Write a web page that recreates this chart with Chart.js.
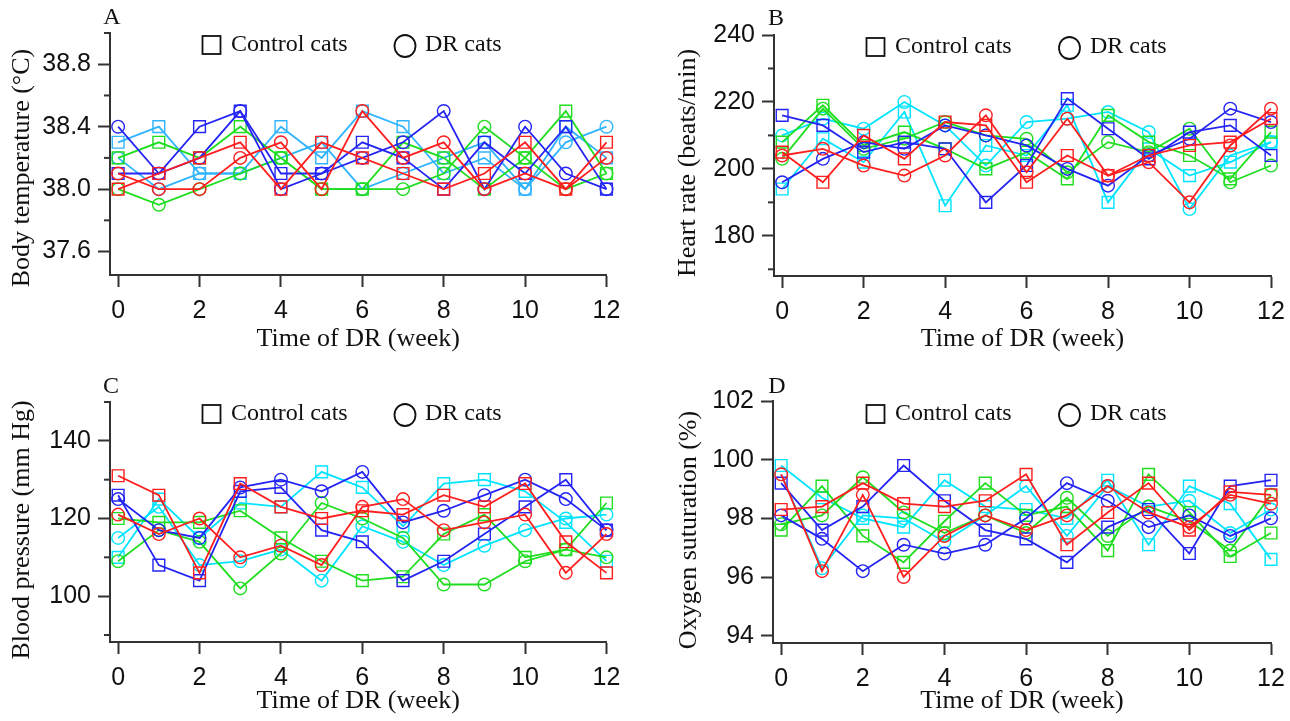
<!DOCTYPE html>
<html><head><meta charset="utf-8">
<script src="https://cdn.jsdelivr.net/npm/chart.js@4.4.1/dist/chart.umd.min.js"></script>
<style>
html,body{margin:0;padding:0;background:#fff;}
#wrap{position:relative;width:1290px;height:721px;overflow:hidden;background:#fff;}
canvas{position:absolute;}
</style></head><body>
<div id="wrap">
<canvas id="cA" width="645" height="360" style="left:0;top:0"></canvas>
<canvas id="cB" width="645" height="360" style="left:645px;top:0"></canvas>
<canvas id="cC" width="645" height="361" style="left:0;top:360px"></canvas>
<canvas id="cD" width="645" height="361" style="left:645px;top:360px"></canvas>
</div>
<script>
// ---------- data ----------
const weeks = [0,1,2,3,4,5,6,7,8,9,10,11,12];
const xTickWeeks = [0,2,4,6,8,10,12];

// A: body temperature (°C)
const tempRedCtrl   = [38.0,38.1,38.2,38.3,38.0,38.3,38.2,38.1,38.0,38.1,38.3,38.0,38.3];
const tempRedDR     = [38.1,38.0,38.0,38.2,38.3,38.0,38.5,38.2,38.3,38.0,38.1,38.0,38.2];
const tempBlueCtrl  = [38.1,38.1,38.4,38.5,38.1,38.1,38.3,38.2,38.0,38.3,38.1,38.4,38.0];
const tempBlueDR    = [38.4,38.1,38.2,38.5,38.0,38.1,38.2,38.3,38.5,38.0,38.4,38.1,38.0];
const tempGreenCtrl = [38.2,38.3,38.2,38.4,38.2,38.0,38.0,38.3,38.2,38.0,38.2,38.5,38.1];
const tempGreenDR   = [38.0,37.9,38.0,38.1,38.2,38.0,38.0,38.0,38.1,38.4,38.2,38.0,38.1];
const tempCyanCtrl  = [38.3,38.4,38.1,38.1,38.4,38.2,38.5,38.4,38.1,38.2,38.0,38.4,38.2];
const tempCyanDR    = [38.2,38.0,38.1,38.1,38.2,38.3,38.0,38.1,38.2,38.3,38.0,38.3,38.4];
const tempTicks = [37.6,38.0,38.4,38.8];
const tempMinor = [37.8,38.2,38.6,39.0];

// B: heart rate (beats/min)
const hrRedCtrl   = [205,196,210,203,214,213,196,204,198,204,207,208,215];
const hrRedDR     = [204,206,201,198,204,216,199,215,198,202,190,207,218];
const hrBlueCtrl  = [216,213,205,208,206,190,201,221,212,203,211,213,204];
const hrBlueDR    = [196,203,208,206,213,210,207,200,195,204,209,218,214];
const hrGreenCtrl = [208,219,207,211,206,200,205,197,216,208,204,197,211];
const hrGreenDR   = [203,218,206,209,214,210,209,199,208,205,212,196,201];
const hrCyanCtrl  = [194,209,202,217,189,207,204,219,190,206,198,202,208];
const hrCyanDR    = [210,215,212,220,213,201,214,215,217,211,188,204,208];
const hrTicks = [180,200,220,240];
const hrMinor = [170,190,210,230];

// C: blood pressure (mm Hg)
const bpRedCtrl   = [131,126,106,129,123,120,122,121,126,123,129,114,106];
const bpRedDR     = [121,116,120,110,113,108,123,125,117,119,121,106,116];
const bpBlueCtrl  = [126,108,104,127,128,117,114,104,109,116,123,130,117];
const bpBlueDR    = [125,117,115,128,130,127,132,119,122,126,130,125,117];
const bpGreenCtrl = [120,119,119,122,115,109,104,105,116,121,110,112,124];
const bpGreenDR   = [109,117,114,102,111,124,120,115,103,103,109,112,110];
const bpCyanCtrl  = [110,125,115,124,123,132,128,118,129,130,127,119,109];
const bpCyanDR    = [115,123,108,109,112,104,118,114,108,113,117,120,121];
const bpTicks = [100,120,140];
const bpMinor = [90,110,130,150];

// D: oxygen saturation (%)
const o2RedCtrl   = [98.3,98.4,99.2,98.5,98.4,98.6,99.5,97.1,98.2,99.2,97.6,98.9,98.8];
const o2RedDR     = [99.5,96.2,98.8,96.0,97.4,98.1,97.6,98.1,99.1,98.2,97.7,98.8,98.5];
const o2BlueCtrl  = [99.2,97.6,98.4,99.8,98.6,97.6,97.3,96.5,97.7,98.3,96.8,99.1,99.3];
const o2BlueDR    = [98.1,97.3,96.2,97.1,96.8,97.1,98.0,99.2,98.6,97.7,98.1,97.4,98.0];
const o2GreenCtrl = [97.6,99.1,97.4,96.5,97.9,99.2,98.1,98.4,96.9,99.5,98.2,96.7,97.5];
const o2GreenDR   = [97.8,98.1,99.4,98.2,97.5,98.1,97.5,98.7,97.4,98.4,97.9,96.9,98.8];
const o2CyanCtrl  = [99.8,98.7,98.0,97.7,99.3,98.4,98.3,98.0,99.3,97.1,99.1,98.5,96.6];
const o2CyanDR    = [99.5,96.3,98.1,98.0,97.2,98.1,99.1,97.4,99.1,98.4,98.6,97.5,98.3];
const o2Ticks = [94,96,98,100,102];
const o2Minor = [];

// ---------- styling ----------
const RED = '#FF1E1E', BLUE = '#2424F4', GREEN = '#1FDD1F', CYAN = '#00E4FF', SKY = '#30B4FF';
const AXIS = '#333333';
const SANS = '"Liberation Sans", Arial, sans-serif';
const SERIF = '"Liberation Serif", "Times New Roman", serif';

function ds(vals, color, shape) {
  return {
    data: weeks.map((w, i) => ({x: w, y: vals[i]})),
    borderColor: color,
    backgroundColor: 'rgba(255,255,255,0)',
    pointBackgroundColor: 'rgba(255,255,255,0)',
    pointBorderColor: color,
    pointStyle: shape,
    pointRadius: shape === 'rect' ? 8.3 : 6.3,
    pointBorderWidth: 1.4,
    borderWidth: 1.8,
    tension: 0,
    clip: false
  };
}

const annot = {
  id: 'annot',
  afterDraw(chart, args, o) {
    const ctx = chart.ctx, area = chart.chartArea, ys = chart.scales.y;
    ctx.save();
    ctx.strokeStyle = AXIS; ctx.lineWidth = 2;
    o.minor.forEach(v => {
      const y = ys.getPixelForValue(v);
      ctx.beginPath(); ctx.moveTo(area.left - 6, y); ctx.lineTo(area.left, y); ctx.stroke();
    });
    ctx.fillStyle = '#111';
    ctx.textBaseline = 'middle';
    ctx.textAlign = 'center';
    ctx.font = '24px ' + SERIF;
    ctx.fillText(o.letter, o.lx, o.ly);
    ctx.save();
    ctx.translate(o.tx, o.ty); ctx.rotate(-Math.PI / 2);
    ctx.font = '26px ' + SERIF;
    ctx.fillText(o.title, 0, 0);
    ctx.restore();
    // legend
    ctx.strokeStyle = '#111'; ctx.lineWidth = 1.8;
    ctx.strokeRect(o.sqX - 9, o.legY - 9, 18, 18);
    ctx.beginPath(); ctx.ellipse(o.circX, o.legY + 1, 10.5, 11, 0, 0, Math.PI * 2); ctx.stroke();
    ctx.textAlign = 'left';
    ctx.font = '24px ' + SERIF;
    ctx.fillText('Control cats', o.ctrlX, o.legY);
    ctx.fillText('DR cats', o.drX, o.legY);
    ctx.restore();
  }
};

function makeChart(id, g) {
  const cv = document.getElementById(id);
  const W = cv.width, H = cv.height;
  return new Chart(cv, {
    type: 'line',
    data: {datasets: g.series.map(s => ds(s[0], s[1], s[2]))},
    options: {
      responsive: false, animation: false, events: [],
      layout: {padding: {left: 0, top: g.top, right: W - g.right, bottom: 0}},
      plugins: {legend: {display: false}, tooltip: {enabled: false}, annot: g.annot},
      scales: {
        x: {
          type: 'linear', min: -0.2, max: 12,
          afterBuildTicks: s => { s.ticks = xTickWeeks.map(v => ({value: v})); },
          afterFit: s => { s.height = H - g.bottom; s.paddingLeft = 0; s.paddingRight = 0; },
          grid: {drawOnChartArea: false, drawTicks: true, tickLength: 12, tickColor: AXIS, tickWidth: 2, color: AXIS},
          border: {display: true, color: AXIS, width: 2},
          ticks: {font: {family: SANS, size: 25}, color: '#111', padding: 9, maxRotation: 0, callback: v => String(v)},
          title: {display: true, text: 'Time of DR (week)', font: {family: SERIF, size: 26}, color: '#111', padding: {top: 0, bottom: g.xtPad}}
        },
        y: {
          type: 'linear', min: g.ymin, max: g.ymax,
          afterBuildTicks: s => { s.ticks = g.ticks.map(v => ({value: v})); },
          afterFit: s => { s.width = g.left; s.paddingTop = 0; s.paddingBottom = 0; },
          grid: {drawOnChartArea: false, drawTicks: true, tickLength: 12, tickColor: AXIS, tickWidth: 2, color: AXIS},
          border: {display: true, color: AXIS, width: 2},
          ticks: {font: {family: SANS, size: 25}, color: '#111', padding: 7, callback: v => g.fmt(v)}
        }
      }
    },
    plugins: [annot]
  });
}

makeChart('cA', {
  left: 110, right: 606.5, top: 33, bottom: 275, ymin: 37.45, ymax: 39.0, ticks: tempTicks, xtPad: 5,
  fmt: v => v.toFixed(1),
  series: [[tempRedCtrl, RED, 'rect'], [tempRedDR, RED, 'circle'], [tempBlueCtrl, BLUE, 'rect'], [tempBlueDR, BLUE, 'circle'],
           [tempGreenCtrl, GREEN, 'rect'], [tempGreenDR, GREEN, 'circle'], [tempCyanCtrl, SKY, 'rect'], [tempCyanDR, SKY, 'circle']],
  annot: {minor: tempMinor, letter: 'A', lx: 112, ly: 18, title: 'Body temperature (\u00B0C)', tx: 22, ty: 168,
          legY: 45, sqX: 211.5, ctrlX: 231, circX: 405, drX: 425}
});
makeChart('cB', {
  left: 129, right: 626, top: 35, bottom: 276, ymin: 168, ymax: 240, ticks: hrTicks, xtPad: 5,
  fmt: v => String(Math.round(v)),
  series: [[hrRedCtrl, RED, 'rect'], [hrRedDR, RED, 'circle'], [hrBlueCtrl, BLUE, 'rect'], [hrBlueDR, BLUE, 'circle'],
           [hrGreenCtrl, GREEN, 'rect'], [hrGreenDR, GREEN, 'circle'], [hrCyanCtrl, CYAN, 'rect'], [hrCyanDR, CYAN, 'circle']],
  annot: {minor: hrMinor, letter: 'B', lx: 131, ly: 19, title: 'Heart rate (beats/min)', tx: 43, ty: 163,
          legY: 47, sqX: 230.5, ctrlX: 250, circX: 424.5, drX: 445}
});
makeChart('cC', {
  left: 110, right: 606.5, top: 42, bottom: 282, ymin: 88.2, ymax: 150, ticks: bpTicks, xtPad: 4,
  fmt: v => String(Math.round(v)),
  series: [[bpRedCtrl, RED, 'rect'], [bpRedDR, RED, 'circle'], [bpBlueCtrl, BLUE, 'rect'], [bpBlueDR, BLUE, 'circle'],
           [bpGreenCtrl, GREEN, 'rect'], [bpGreenDR, GREEN, 'circle'], [bpCyanCtrl, CYAN, 'rect'], [bpCyanDR, CYAN, 'circle']],
  annot: {minor: bpMinor, letter: 'C', lx: 111, ly: 27, title: 'Blood pressure (mm Hg)', tx: 22, ty: 170,
          legY: 54, sqX: 211.5, ctrlX: 231, circX: 405, drX: 425}
});
makeChart('cD', {
  left: 128, right: 626, top: 41, bottom: 283, ymin: 93.75, ymax: 102, ticks: o2Ticks, xtPad: 4,
  fmt: v => String(Math.round(v)),
  series: [[o2RedCtrl, RED, 'rect'], [o2RedDR, RED, 'circle'], [o2BlueCtrl, BLUE, 'rect'], [o2BlueDR, BLUE, 'circle'],
           [o2GreenCtrl, GREEN, 'rect'], [o2GreenDR, GREEN, 'circle'], [o2CyanCtrl, CYAN, 'rect'], [o2CyanDR, CYAN, 'circle']],
  annot: {minor: o2Minor, letter: 'D', lx: 132, ly: 27, title: 'Oxygen suturation (%)', tx: 44, ty: 170,
          legY: 54, sqX: 230.5, ctrlX: 250, circX: 424.5, drX: 445}
});
</script>
</body></html>
